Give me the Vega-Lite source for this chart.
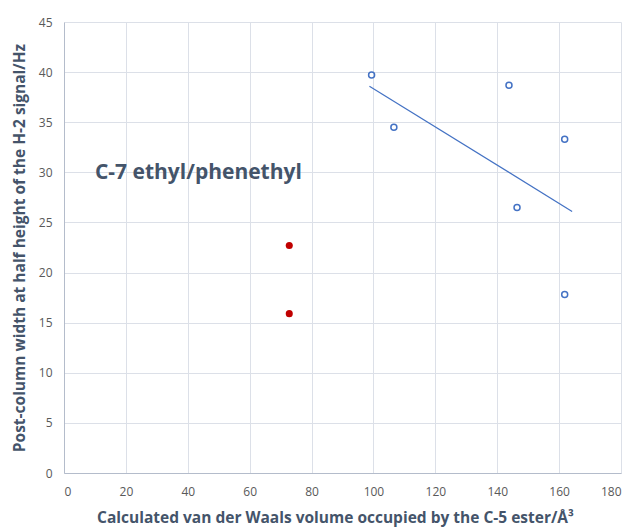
{
  "$schema": "https://vega.github.io/schema/vega-lite/v6.json",
  "width": 557,
  "height": 451,
  "autosize": {"type": "none"},
  "padding": {"left": 64, "top": 22, "right": 13, "bottom": 55},
  "background": "white",
  "config": {
    "view": {"stroke": null},
    "font": "Open Sans",
    "axis": {
      "gridColor": "#DCE0E8",
      "gridWidth": 1,
      "domainColor": "#B4BCCB",
      "ticks": false,
      "labelColor": "#595959",
      "labelFont": "Open Sans",
      "labelFontSize": 12,
      "titleColor": "#44546A",
      "titleFont": "Open Sans",
      "titleFontSize": 15.5,
      "titleFontWeight": "bold"
    }
  },
  "datasets": {
    "blue": [
      {"vol": 99.4, "width": 39.7},
      {"vol": 143.8, "width": 38.7},
      {"vol": 106.6, "width": 34.5},
      {"vol": 161.8, "width": 33.3},
      {"vol": 146.4, "width": 26.5},
      {"vol": 161.8, "width": 17.8}
    ],
    "red": [
      {"vol": 72.8, "width": 22.7},
      {"vol": 72.8, "width": 15.9}
    ],
    "trend": [
      {"vol": 98.7, "width": 38.6},
      {"vol": 164.2, "width": 26.1}
    ],
    "label": [
      {"vol": 10, "width": 29.9, "text": "C-7 ethyl/phenethyl"}
    ]
  },
  "layer": [
    {
      "data": {"name": "trend"},
      "mark": {"type": "line", "color": "#4472C4", "strokeWidth": 1.2},
      "encoding": {
        "x": {
          "field": "vol", "type": "quantitative",
          "scale": {"domain": [0, 180], "nice": false},
          "axis": {
            "values": [0, 20, 40, 60, 80, 100, 120, 140, 160, 180],
            "title": "Calculated van der Waals volume occupied by the C-5 ester/Å³",
            "labelPadding": 13,
            "titlePadding": 13,
            "titleX": 271
          }
        },
        "y": {
          "field": "width", "type": "quantitative",
          "scale": {"domain": [0, 45], "nice": false},
          "axis": {
            "values": [0, 5, 10, 15, 20, 25, 30, 35, 40, 45],
            "title": "Post-column width at half height of the H-2 signal/Hz",
            "labelPadding": 12,
            "titlePadding": 11
          }
        }
      }
    },
    {
      "data": {"name": "blue"},
      "mark": {"type": "point", "shape": "circle", "filled": false, "color": "#4472C4", "strokeWidth": 1.5, "size": 36, "opacity": 1},
      "encoding": {
        "x": {"field": "vol", "type": "quantitative"},
        "y": {"field": "width", "type": "quantitative"}
      }
    },
    {
      "data": {"name": "red"},
      "mark": {"type": "point", "shape": "circle", "filled": true, "color": "#C00000", "size": 50, "opacity": 1},
      "encoding": {
        "x": {"field": "vol", "type": "quantitative"},
        "y": {"field": "width", "type": "quantitative"}
      }
    },
    {
      "data": {"name": "label"},
      "mark": {"type": "text", "align": "left", "baseline": "middle", "font": "Open Sans", "fontSize": 21, "fontWeight": "bold", "color": "#44546A"},
      "encoding": {
        "x": {"field": "vol", "type": "quantitative"},
        "y": {"field": "width", "type": "quantitative"},
        "text": {"field": "text"}
      }
    }
  ]
}
